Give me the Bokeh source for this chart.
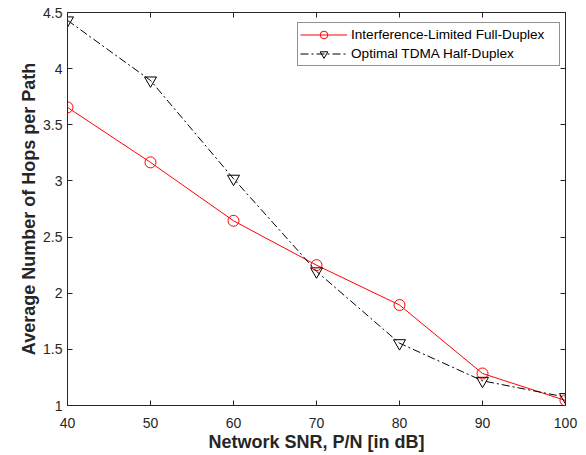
from bokeh.plotting import figure
from bokeh.models import LinearAxis, FixedTicker, PrintfTickFormatter, CustomJSTickFormatter, Legend, LegendItem, Range1d
from bokeh.embed import file_html
from bokeh.resources import INLINE

snr = [40, 50, 60, 70, 80, 90, 100]
full_duplex = [3.655, 3.165, 2.645, 2.25, 1.895, 1.285, 1.045]
tdma_half = [4.43, 3.895, 3.02, 2.195, 1.555, 1.22, 1.075]
x_ticks = [40, 50, 60, 70, 80, 90, 100]
y_ticks = [1, 1.5, 2, 2.5, 3, 3.5, 4, 4.5]

FONT = "Liberation Sans"
AX = "#262626"

p = figure(frame_width=498, frame_height=393, output_backend="svg", toolbar_location=None,
           x_range=Range1d(40, 100), y_range=Range1d(1, 4.5),
           min_border_left=67, min_border_right=21, min_border_top=12, min_border_bottom=50,
           x_axis_label="Network SNR, P/N [in dB]", y_axis_label="Average Number of Hops per Path")
p.xgrid.visible = False
p.ygrid.visible = False
p.outline_line_color = AX
p.outline_line_width = 1
p.background_fill_color = "white"
p.border_fill_color = "white"

for ax, ticks in ((p.xaxis[0], x_ticks), (p.yaxis[0], y_ticks)):
    ax.ticker = FixedTicker(ticks=ticks)
    ax.formatter = PrintfTickFormatter(format="%g")
    ax.major_tick_in = 5
    ax.major_tick_out = 0
    ax.minor_tick_line_color = None
    ax.axis_line_color = AX
    ax.major_tick_line_color = AX
    ax.major_label_text_font = FONT
    ax.major_label_text_font_size = "14px"
    ax.major_label_text_color = AX
    ax.axis_label_text_font = FONT
    ax.axis_label_text_font_size = "18px"
    ax.axis_label_text_font_style = "bold"
    ax.axis_label_text_color = AX
p.xaxis[0].major_label_standoff = 12
p.xaxis[0].axis_label_standoff = 1
p.yaxis[0].major_label_standoff = 5
p.yaxis[0].axis_label_standoff = 1

for loc, ticks in (("above", x_ticks), ("right", y_ticks)):
    a = LinearAxis(ticker=FixedTicker(ticks=ticks), formatter=CustomJSTickFormatter(code="return ''"),
                   major_tick_in=5, major_tick_out=0, minor_tick_line_color=None,
                   axis_line_color=AX, major_tick_line_color=AX, major_label_standoff=0)
    p.add_layout(a, loc)

r1 = p.line(snr, full_duplex, line_color="red", line_width=1)
m1 = p.scatter(snr, full_duplex, marker="circle", size=11, fill_color=None, line_color="red", line_width=1)
r2 = p.line(snr, tdma_half, line_color="black", line_width=1, line_dash="8 3 2 3")
m2 = p.scatter(snr, tdma_half, marker="inverted_triangle", size=12, fill_color=None, line_color="black", line_width=1)

legend = Legend(items=[
    LegendItem(label="Interference-Limited Full-Duplex", renderers=[r1, m1]),
    LegendItem(label="Optimal TDMA Half-Duplex", renderers=[r2, m2]),
], location=(230, 339))
legend.label_text_font = FONT
legend.label_text_font_size = "13.6px"
legend.label_text_color = "black"
legend.border_line_color = AX
legend.border_line_width = 1
legend.margin = 0
legend.padding = 2
legend.spacing = 0
legend.label_height = 19
legend.glyph_height = 19
legend.glyph_width = 47
legend.label_width = 206
legend.label_standoff = 4
p.add_layout(legend)

open("out.html", "w").write(file_html(p, INLINE))
